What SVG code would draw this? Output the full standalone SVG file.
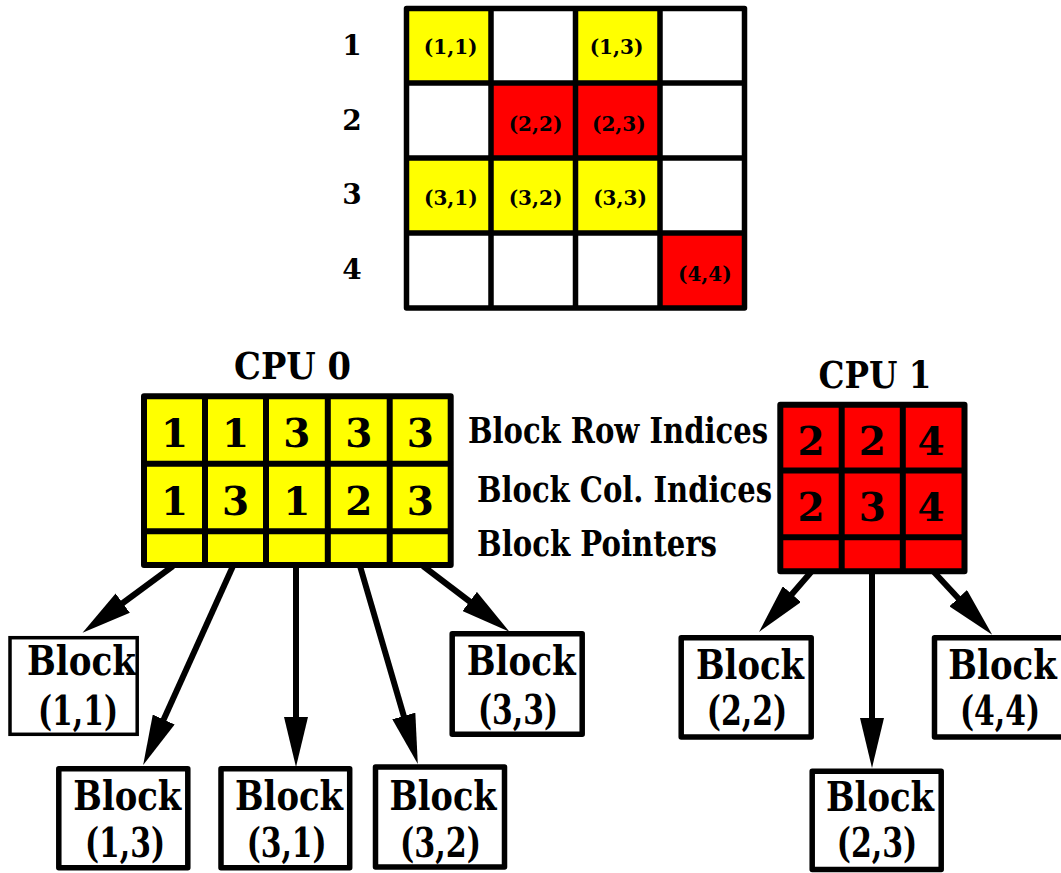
<svg xmlns="http://www.w3.org/2000/svg" width="1061" height="873" viewBox="0 0 1061 873">
  <style>
    text { font-family: "DejaVu Serif", "Liberation Serif", serif; font-weight: bold; fill: #000; }
    .rowlbl { font-size: 28px; text-anchor: middle; }
    .cell { font-size: 20px; text-anchor: middle; }
    .title { font-size: 38px; }
    .digit { font-size: 39px; text-anchor: middle; }
    .side { font-size: 35px; }
    .blk { font-size: 41px; }
    .grid { fill: none; stroke: #000; stroke-width: 5.5; stroke-linejoin: round; }
    .tbl { fill: none; stroke: #000; stroke-width: 6; stroke-linejoin: round; }
    .box { fill: #fff; stroke: #000; stroke-width: 5.5; stroke-linejoin: round; }
    .box.thin { stroke-width: 3.5; stroke-linejoin: miter; }
    .y { fill: #ffff00; }
    .r { fill: #ff0000; }
    .edge { stroke: #000; stroke-width: 6; fill: none; marker-end: url(#head); }
  </style>
  <defs>
    <marker id="head" markerUnits="userSpaceOnUse" viewBox="0 0 50 24" refX="10" refY="12" markerWidth="50" markerHeight="24" orient="auto">
      <path d="M0,0 L50,12 L0,24 Z" fill="#000"/>
    </marker>
  </defs>
  <rect width="1061" height="873" fill="#fff"/>

  <!-- 4x4 block matrix -->
  <g id="matrix">
    <rect class="y" x="406.5" y="8.5" width="84.5" height="75"/>
    <rect class="y" x="575.5" y="8.5" width="84.5" height="75"/>
    <rect class="r" x="491" y="83.5" width="84.5" height="75"/>
    <rect class="r" x="575.5" y="83.5" width="84.5" height="75"/>
    <rect class="y" x="406.5" y="158.5" width="84.5" height="75"/>
    <rect class="y" x="491" y="158.5" width="84.5" height="75"/>
    <rect class="y" x="575.5" y="158.5" width="84.5" height="75"/>
    <rect class="r" x="660" y="233.5" width="84.5" height="75"/>
    <path class="grid" d="M406.5,8.5 H744.5 V308 H406.5 Z M491,8.5 V308 M575.5,8.5 V308 M660,8.5 V308 M406.5,83 H744.5 M406.5,158 H744.5 M406.5,233 H744.5"/>
    <text class="rowlbl" x="352" y="55">1</text>
    <text class="rowlbl" x="352" y="130">2</text>
    <text class="rowlbl" x="352" y="204">3</text>
    <text class="rowlbl" x="352" y="279">4</text>
    <text class="cell" x="450.7" y="54">(1,1)</text>
    <text class="cell" x="616.5" y="54">(1,3)</text>
    <text class="cell" x="535.5" y="130.5">(2,2)</text>
    <text class="cell" x="618.8" y="130.5">(2,3)</text>
    <text class="cell" x="450.8" y="205">(3,1)</text>
    <text class="cell" x="535.5" y="205">(3,2)</text>
    <text class="cell" x="620" y="205">(3,3)</text>
    <text class="cell" x="704.8" y="280.5">(4,4)</text>
  </g>

  <!-- CPU 0 storage -->
  <g id="cpu0">
    <text class="title" x="234" y="379" textLength="117" lengthAdjust="spacingAndGlyphs">CPU 0</text>
    <rect class="y" x="144" y="396.3" width="306.7" height="168.7"/>
    <path class="tbl" d="M144,396.3 H450.7 V565 H144 Z M205,396.3 V565 M266,396.3 V565 M327.8,396.3 V565 M389.7,396.3 V565 M144,463.7 H450.7 M144,531.2 H450.7"/>
    <text class="digit" x="174.5" y="446.7">1</text>
    <text class="digit" x="235.5" y="446.7">1</text>
    <text class="digit" x="296.9" y="446.7">3</text>
    <text class="digit" x="358.7" y="446.7">3</text>
    <text class="digit" x="420.2" y="446.7">3</text>
    <text class="digit" x="174.5" y="515">1</text>
    <text class="digit" x="235.5" y="515">3</text>
    <text class="digit" x="296.9" y="515">1</text>
    <text class="digit" x="358.7" y="515">2</text>
    <text class="digit" x="420.2" y="515">3</text>
  </g>

  <!-- row captions -->
  <g id="captions">
    <text class="side" x="468" y="443" textLength="300" lengthAdjust="spacingAndGlyphs">Block Row Indices</text>
    <text class="side" x="477" y="502" textLength="295" lengthAdjust="spacingAndGlyphs">Block Col. Indices</text>
    <text class="side" x="477" y="556" textLength="240" lengthAdjust="spacingAndGlyphs">Block Pointers</text>
  </g>

  <!-- CPU 1 storage -->
  <g id="cpu1">
    <text class="title" x="818.5" y="388" textLength="113" lengthAdjust="spacingAndGlyphs">CPU 1</text>
    <rect class="r" x="780.3" y="404.7" width="184.2" height="166.5"/>
    <path class="tbl" d="M780.3,404.7 H964.5 V571.2 H780.3 Z M841.7,404.7 V571.2 M902.8,404.7 V571.2 M780.3,470.5 H964.5 M780.3,537.2 H964.5"/>
    <text class="digit" x="811" y="455">2</text>
    <text class="digit" x="872.3" y="455">2</text>
    <text class="digit" x="931" y="455">4</text>
    <text class="digit" x="811" y="520.7">2</text>
    <text class="digit" x="872.3" y="520.7">3</text>
    <text class="digit" x="931" y="520.7">4</text>
  </g>

  <!-- pointer arrows -->
  <g id="connectors">
    <line class="edge" x1="173" y1="566" x2="114.7" y2="609"/>
    <line class="edge" x1="233" y1="566" x2="159.6" y2="728.6"/>
    <line class="edge" x1="296" y1="566" x2="296" y2="727"/>
    <line class="edge" x1="360" y1="566" x2="406.6" y2="725.6"/>
    <line class="edge" x1="423" y1="566" x2="477.6" y2="607.5"/>
    <line class="edge" x1="812" y1="571" x2="785.3" y2="601.7"/>
    <line class="edge" x1="872" y1="571" x2="872" y2="728"/>
    <line class="edge" x1="933" y1="571" x2="965" y2="605.5"/>
  </g>

  <!-- data blocks -->
  <g id="block-1-1">
    <rect class="box thin" x="10" y="637.7" width="127.2" height="96.6"/>
    <text class="blk" x="27" y="675" textLength="109" lengthAdjust="spacingAndGlyphs">Block</text>
    <text class="blk" x="38" y="724.5" textLength="80" lengthAdjust="spacingAndGlyphs">(1,1)</text>
  </g>
  <g id="block-1-3">
    <rect class="box" x="58.8" y="768.8" width="129" height="99"/>
    <text class="blk" x="73.3" y="810" textLength="108" lengthAdjust="spacingAndGlyphs">Block</text>
    <text class="blk" x="85" y="856.5" textLength="80" lengthAdjust="spacingAndGlyphs">(1,3)</text>
  </g>
  <g id="block-3-1">
    <rect class="box" x="221" y="768.8" width="128.7" height="99"/>
    <text class="blk" x="235" y="810" textLength="108" lengthAdjust="spacingAndGlyphs">Block</text>
    <text class="blk" x="246.7" y="856.5" textLength="80" lengthAdjust="spacingAndGlyphs">(3,1)</text>
  </g>
  <g id="block-3-2">
    <rect class="box" x="375.5" y="767" width="129" height="100"/>
    <text class="blk" x="389.5" y="810" textLength="107" lengthAdjust="spacingAndGlyphs">Block</text>
    <text class="blk" x="400" y="856.5" textLength="81" lengthAdjust="spacingAndGlyphs">(3,2)</text>
  </g>
  <g id="block-3-3">
    <rect class="box" x="452.2" y="633.7" width="130" height="100.5"/>
    <text class="blk" x="466.7" y="675" textLength="109" lengthAdjust="spacingAndGlyphs">Block</text>
    <text class="blk" x="478" y="724" textLength="80" lengthAdjust="spacingAndGlyphs">(3,3)</text>
  </g>
  <g id="block-2-2">
    <rect class="box" x="681.2" y="637.8" width="130" height="99.2"/>
    <text class="blk" x="696" y="679" textLength="108" lengthAdjust="spacingAndGlyphs">Block</text>
    <text class="blk" x="706.7" y="725" textLength="80.6" lengthAdjust="spacingAndGlyphs">(2,2)</text>
  </g>
  <g id="block-2-3">
    <rect class="box" x="812.2" y="771.2" width="129" height="98.3"/>
    <text class="blk" x="826" y="810.7" textLength="108" lengthAdjust="spacingAndGlyphs">Block</text>
    <text class="blk" x="836.7" y="856.5" textLength="80.6" lengthAdjust="spacingAndGlyphs">(2,3)</text>
  </g>
  <g id="block-4-4">
    <rect class="box" x="934.5" y="637.8" width="135" height="99.2"/>
    <text class="blk" x="948.3" y="679" textLength="108.4" lengthAdjust="spacingAndGlyphs">Block</text>
    <text class="blk" x="960" y="725" textLength="80" lengthAdjust="spacingAndGlyphs">(4,4)</text>
  </g>
</svg>
